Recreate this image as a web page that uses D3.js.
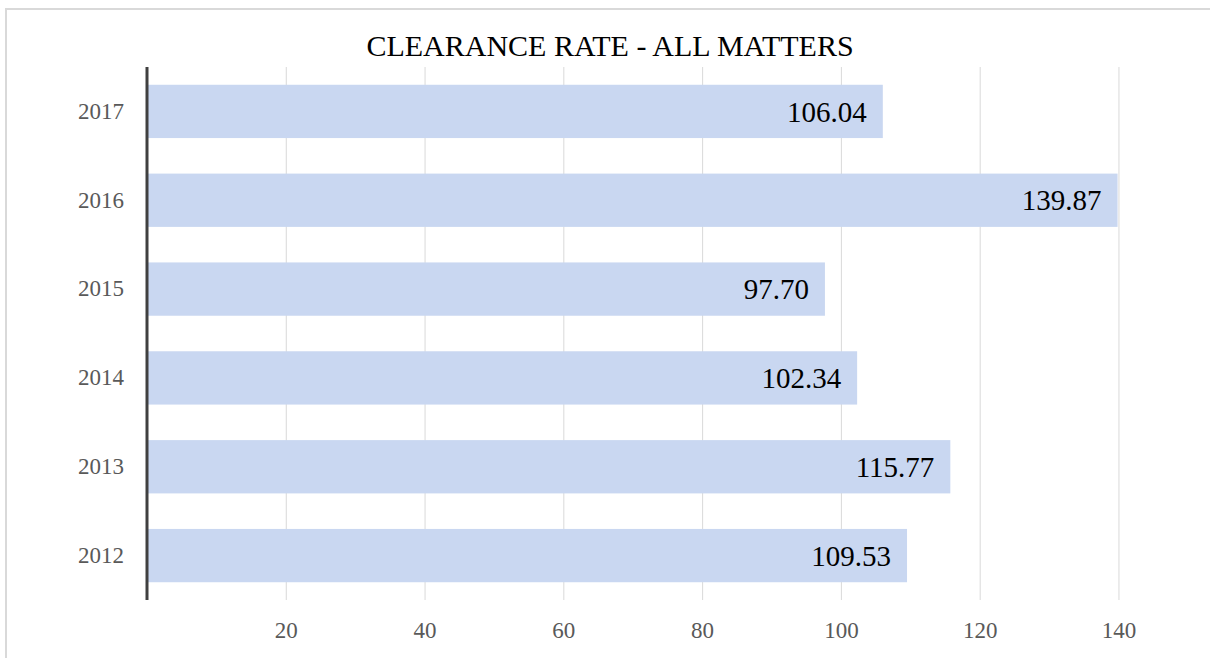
<!DOCTYPE html>
<html>
<head>
<meta charset="utf-8">
<script src="https://cdn.jsdelivr.net/npm/d3@7"></script>
<style>
  html, body { margin: 0; padding: 0; background: #fff; }
  svg { display: block; }
</style>
</head>
<body>
<svg id="chart" width="1210" height="658"></svg>
<script>
const title = "CLEARANCE RATE - ALL MATTERS";
const years = ["2012", "2013", "2014", "2015", "2016", "2017"];
const clearanceRate = [109.53, 115.77, 102.34, 97.70, 139.87, 106.04];
const xTicks = [20, 40, 60, 80, 100, 120, 140];

const data = years.map((y, i) => ({ year: y, value: clearanceRate[i] }));

const svg = d3.select("#chart");
const W = 1210, H = 658;
const plot = { left: 147, right: 1188, top: 67, bottom: 600 };
const serif = "'Liberation Serif', 'Times New Roman', serif";

// outer frame
svg.append("rect")
  .attr("x", 6).attr("y", 9)
  .attr("width", W).attr("height", H)
  .attr("fill", "#fff")
  .attr("stroke", "#d9d9d9").attr("stroke-width", 2);

const x = d3.scaleLinear().domain([0, 150]).range([plot.left, plot.left + 150 * (138.78 / 20)]);
const y = d3.scaleBand()
  .domain(years.slice().reverse())
  .range([plot.top, plot.bottom])
  .paddingInner(0.4).paddingOuter(0.2);

// gridlines
const xAxis = d3.axisBottom(x).tickValues(xTicks).tickSize(-(plot.bottom - plot.top)).tickPadding(22);
const gx = svg.append("g").attr("transform", `translate(0,${plot.bottom})`).call(xAxis);
gx.select(".domain").remove();
gx.selectAll(".tick line").attr("stroke", "#d9d9d9").attr("stroke-width", 1);
gx.selectAll(".tick text")
  .attr("font-family", serif).attr("font-size", 23).attr("fill", "#595959");

// bars
svg.append("g").selectAll("rect")
  .data(data).join("rect")
  .attr("x", x(0))
  .attr("y", d => y(d.year))
  .attr("width", d => x(d.value) - x(0))
  .attr("height", y.bandwidth())
  .attr("fill", "#c9d7f1");

// value labels
svg.append("g").selectAll("text")
  .data(data).join("text")
  .attr("x", d => x(d.value) - 16)
  .attr("y", d => y(d.year) + y.bandwidth() / 2)
  .attr("dy", "0.35em")
  .attr("text-anchor", "end")
  .attr("font-family", serif).attr("font-size", 29).attr("fill", "#000")
  .text(d => d.value.toFixed(2));

// y axis
const yAxis = d3.axisLeft(y).tickSize(0).tickPadding(23);
const gy = svg.append("g").attr("transform", `translate(${plot.left},0)`).call(yAxis);
gy.select(".domain").remove();
gy.selectAll(".tick text")
  .attr("font-family", serif).attr("font-size", 23).attr("fill", "#595959");
svg.append("line")
  .attr("x1", plot.left).attr("x2", plot.left)
  .attr("y1", plot.top).attr("y2", plot.bottom)
  .attr("stroke", "#404040").attr("stroke-width", 3);

// title
svg.append("text")
  .attr("x", 610).attr("y", 56)
  .attr("text-anchor", "middle")
  .attr("font-family", serif).attr("font-size", 30).attr("fill", "#000")
  .text(title);
</script>
</body>
</html>
